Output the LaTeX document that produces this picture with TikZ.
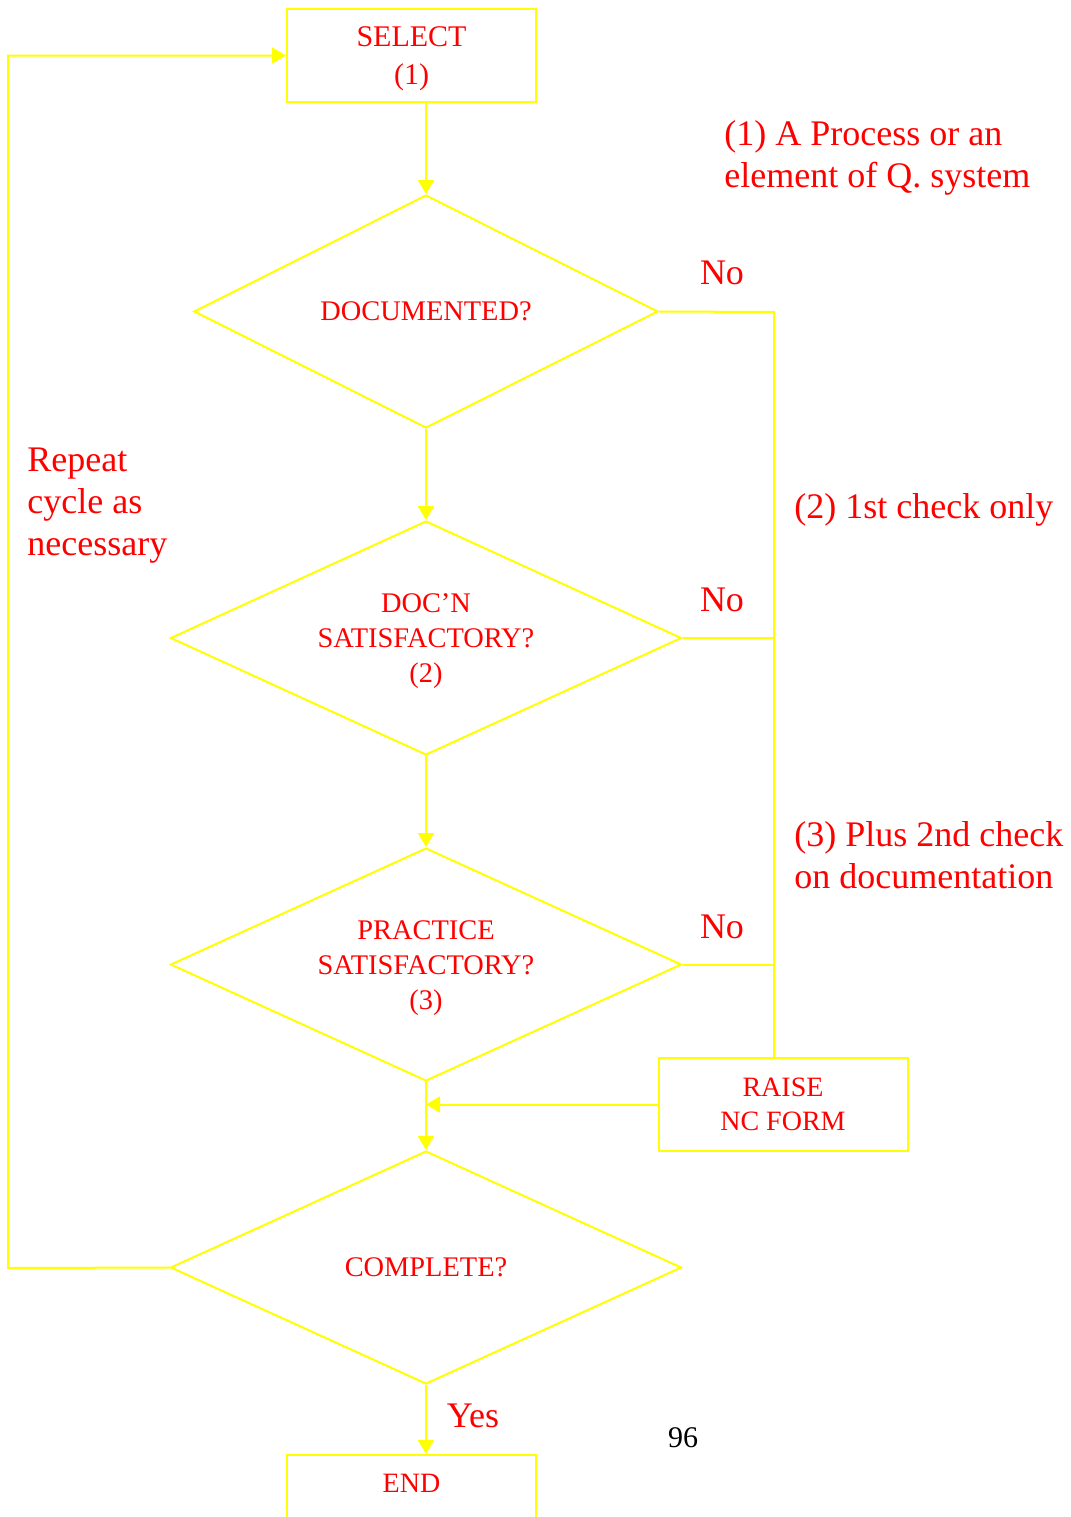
\documentclass[tikz,border=0pt]{standalone}
\usepackage{fontspec}
\setmainfont{Liberation Serif}
\usetikzlibrary{shapes.geometric,arrows.meta}
\definecolor{flowyellow}{RGB}{255,255,0}
\definecolor{flowred}{RGB}{255,0,0}
\begin{document}
\begin{tikzpicture}[x=0.5pt,y=-0.5pt,
  flowline/.style={draw=flowyellow,line width=1pt},
  arr/.style={flowline,-{Triangle[length=7pt,width=8pt]}},
  box/.style={flowline,rectangle,minimum width=124.5pt,minimum height=46.5pt,inner sep=0pt,
    align=center,text=flowred,font=\fontsize{15}{19}\selectfont},
  decision/.style={flowline,diamond,shape aspect=2.2,inner sep=0pt,align=center,text=flowred,
    font=\fontsize{14.2}{17.5}\selectfont},
  note/.style={inner sep=0pt,align=left,text=flowred,font=\fontsize{18}{21}\selectfont},
  answer/.style={inner sep=0pt,text=flowred,font=\fontsize{18}{21}\selectfont}]
\path[use as bounding box,clip] (0,0) rectangle (1071,1517);
\fill[white] (0,0) rectangle (1071,1517);

% process boxes
\node[box] (select) at (411.5,55.5) {\rule{0pt}{12.9pt}SELECT\\(1)};
\node[box,font=\fontsize{14}{17}\selectfont] (raise) at (783,1104.5) {RAISE\\NC FORM};
\node[box,anchor=north,text height=18.5pt,text depth=28pt,minimum height=0pt,
  font=\fontsize{14}{17}\selectfont] (finish) at (411.5,1454) {END};

% decisions
\node[decision,minimum width=232pt,minimum height=116.5pt] (d1) at (426,311.5) {DOCUMENTED?};
\node[decision,minimum width=255.5pt,minimum height=117pt] (d2) at (426,638) {\rule{0pt}{12.5pt}DOC’N\\SATISFACTORY?\\(2)};
\node[decision,minimum width=255.5pt,minimum height=116.5pt] (d3) at (426,964.5) {\rule{0pt}{13.4pt}PRACTICE\\SATISFACTORY?\\(3)};
\node[decision,minimum width=255.5pt,minimum height=116.5pt] (d4) at (426,1267.5) {COMPLETE?};

% routing points
\coordinate (bus) at (774,312);
\coordinate (loop) at (8,1268);

% main flow
\draw[arr] (select.south -| d1.north) -- (d1.north);
\draw[arr] (d1.south) -- (d2.north);
\draw[arr] (d2.south) -- (d3.north);
\draw[arr] (d3.south) -- (d4.north);
\draw[arr] (raise.west) -- (raise.west -| d3.south);
\draw[arr] (d4.south) -- (d4.south |- finish.north);

% "No" branches to the NC form
\draw[flowline] (d1.east) -- (bus) -- (bus |- raise.north);
\draw[flowline] (d2.east) -- (d2.east -| bus);
\draw[flowline] (d3.east) -- (d3.east -| bus);

% repeat loop
\draw[arr] (d4.west) -- (loop) |- (select.west);

% labels
\node[answer] (no1) at (722,273) {No};
\node[answer] (no2) at (722,600) {No};
\node[answer] (no3) at (722,927) {No};
\node[answer] (yes) at (473,1416) {Yes};
\node[note,anchor=west] (n1) at (724,158) {(1) A Process or an\\element of Q. system};
\node[note,anchor=west] (n2) at (794,510) {(2) 1st check only};
\node[note,anchor=west] (n3) at (794,855) {(3) Plus 2nd check\\on documentation};
\node[note,anchor=west] (rep) at (27,506) {Repeat\\cycle as\\necessary};
\node[inner sep=0pt,font=\fontsize{15}{18}\selectfont] (page) at (683,1438) {96};
\end{tikzpicture}
\end{document}
